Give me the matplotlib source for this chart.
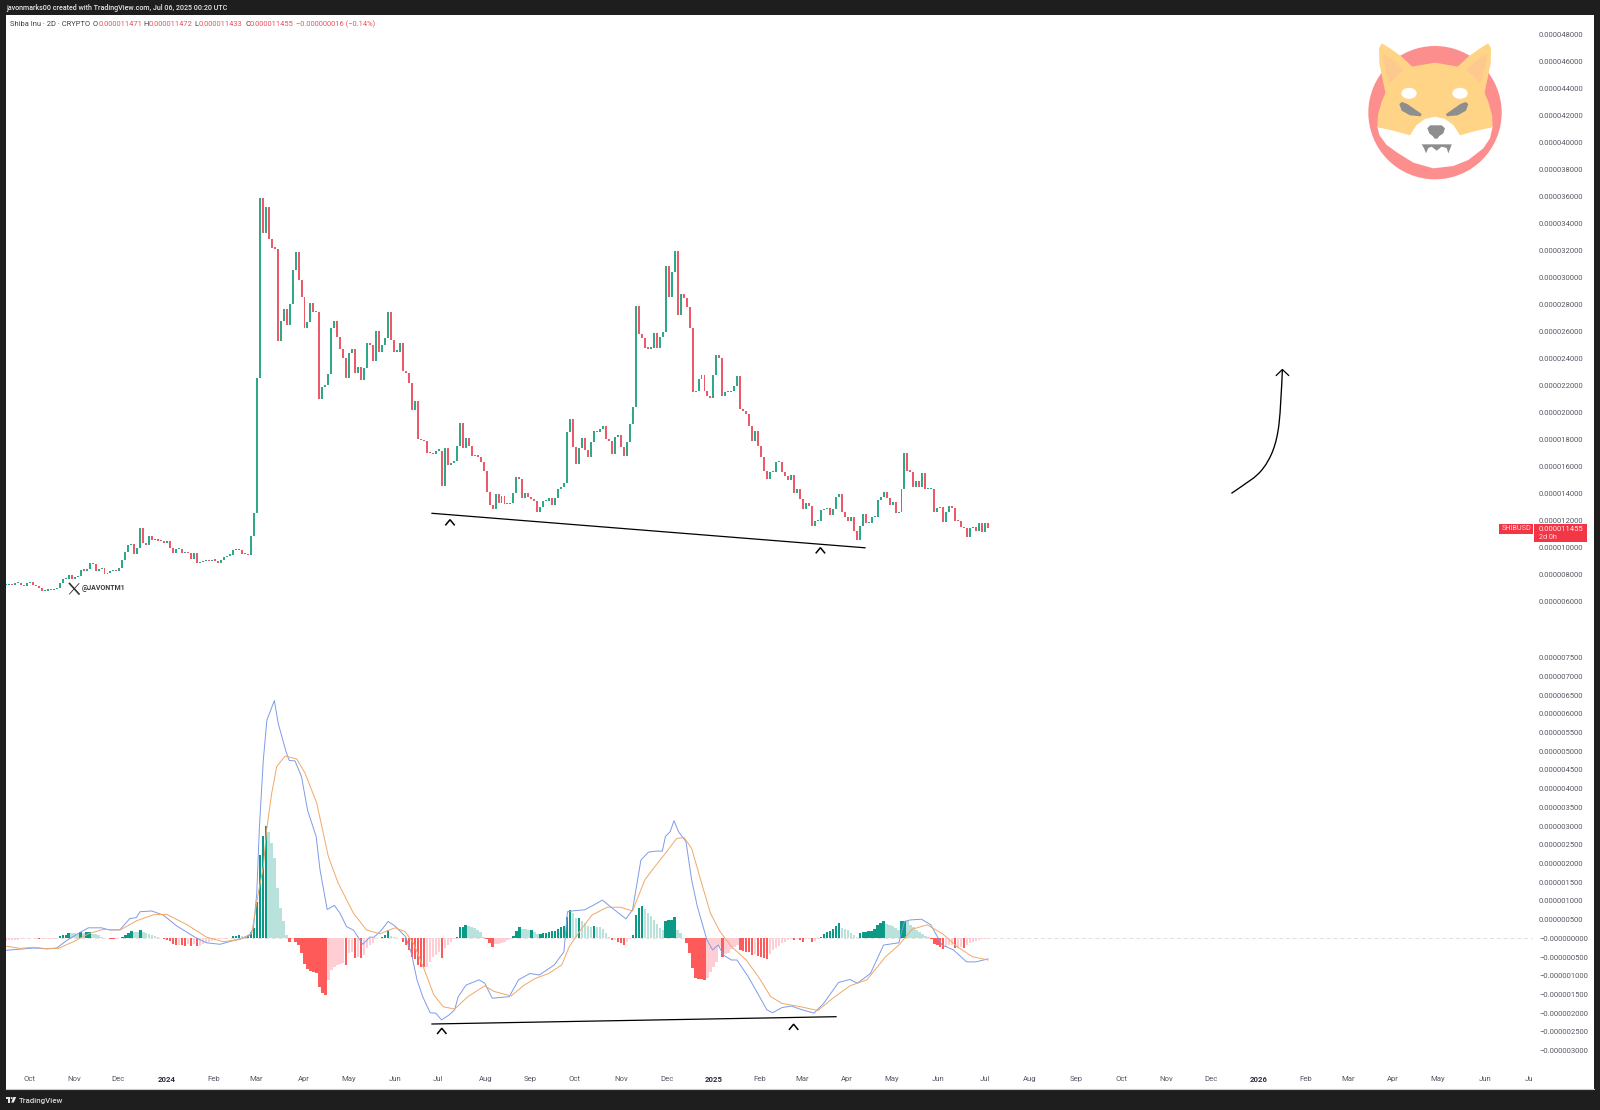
import numpy as np
import matplotlib
matplotlib.use("Agg")
import matplotlib.pyplot as plt
from matplotlib.patches import Polygon, Circle, Ellipse, Rectangle, PathPatch
from matplotlib.path import Path

# ---------- data (prices and MACD in units of 1e-6) ----------
open_first = 7.20
closes = [
 7.23,7.31,7.23,7.36,7.41,7.21,7.16,7.36,7.43,7.23,
 7.16,6.99,6.79,6.79,6.91,6.86,6.94,6.99,7.36,7.70,
 7.70,7.95,7.65,7.85,7.90,8.34,8.30,8.44,8.84,8.79,
 8.30,8.44,8.47,8.05,8.15,8.27,8.30,8.25,8.47,9.09,
 9.65,10.17,10.27,9.51,10.0,11.43,10.32,10.2,10.86,10.57,
 10.57,10.52,10.47,10.32,10.52,9.95,9.58,9.9,9.93,9.58,
 9.63,9.58,9.13,9.63,8.84,8.96,9.01,9.01,8.99,9.06,
 9.04,8.89,9.09,9.33,9.41,9.46,9.83,9.83,9.83,9.51,
 9.51,9.46,10.86,12.55,22.6,35.88,33.29,35.2,32.85,32.23,
 32.15,25.34,26.8,27.68,26.5,28.03,30.6,31.93,29.83,28.55,
 26.28,26.75,28.15,27.49,27.44,21.04,21.88,22.03,22.87,26.28,
 26.8,25.64,24.7,24.08,22.6,24.4,24.7,22.92,23.41,22.43,
 23.29,25.19,25.02,23.81,26.08,24.52,25.02,25.51,27.49,25.39,
 24.52,24.52,25.19,23.12,22.92,22.18,20.2,20.89,18.03,17.98,
 17.91,17.0,16.98,16.94,17.19,17.19,14.57,17.36,16.13,16.3,
 16.45,17.56,19.26,17.36,18.1,17.54,16.82,16.79,16.74,16.37,
 15.7,14.15,13.16,12.84,13.97,13.33,13.83,13.23,13.23,13.28,
 14.02,15.21,15.09,13.7,14.02,13.78,13.6,13.48,12.67,13.04,
 13.48,13.48,13.7,13.13,13.65,14.32,14.47,14.77,18.59,19.53,
 17.48,16.2,17.36,18.1,17.23,16.69,17.8,18.67,18.54,18.79,
 19.04,18.05,17.93,16.94,18.17,18.35,17.48,16.79,17.8,19.16,
 20.44,27.9,25.83,25.5,24.76,24.74,24.76,25.93,24.76,25.63,
 25.97,30.86,28.59,30.44,32.0,27.23,28.79,28.47,27.8,26.3,
 21.5,21.63,22.47,22.76,21.6,21.26,21.11,22.79,24.27,24.02,
 21.26,21.5,21.5,21.6,21.97,22.74,20.25,20.15,19.9,19.04,
 17.92,18.64,17.55,16.74,15.7,15.06,15.6,15.63,16.32,16.32,
 15.63,15.33,15.01,15.38,14.02,14.32,13.58,12.84,13.28,13.11,
 11.6,11.97,11.97,12.79,12.86,12.91,12.42,12.86,13.78,13.95,
 12.62,12.3,12.0,12.25,11.26,10.57,11.6,12.47,11.8,11.8,
 12.25,12.3,13.53,13.78,14.12,13.7,13.16,13.41,12.59,12.62,
 14.34,17.0,15.7,15.63,14.47,14.96,14.52,15.5,14.32,14.32,
 14.32,12.67,12.91,12.99,11.92,12.67,13.09,12.91,12.0,11.95,
 11.55,11.48,10.81,11.48,11.55,11.26,11.8,11.13,11.8,11.455,
]

hist = [
 -.06,-.05,-.05,-.04,-.04,-.03,-.02,.01,.01,.01,
 .01,-.03,-.03,-.01,-.01,-.01,-.01,.02,.05,.08,
 .09,.14,.135,.13,.125,.17,.14,.16,.17,.12,
 .11,.08,.04,.02,.01,-.01,-.02,-.02,0,.03,
 .08,.15,.19,.16,.155,.22,.16,.14,.12,.1,
 .07,.04,.01,-.02,-.04,-.08,-.15,-.18,-.18,-.19,
 -.195,-.15,-.2,-.16,-.2,-.2,-.16,-.13,-.1,-.07,
 -.04,-.02,-.01,-.01,-.01,.01,.05,.07,.08,.06,
 .05,.08,.16,.27,.98,2.23,2.72,3.0,2.83,2.54,
 2.15,1.34,.8,.45,.09,-.11,-.02,-.1,-.18,-.4,
 -.69,-.83,-.87,-.91,-.915,-1.29,-1.47,-1.51,-1.11,-.85,
 -.76,-.71,-.69,-.67,-.72,-.4,-.36,-.52,-.49,-.52,
 -.45,-.27,-.18,-.13,0,0,.04,.09,.22,.07,
 .03,.01,0,-.09,-.18,-.31,-.51,-.56,-.71,-.77,
 -.78,-.76,-.62,-.49,-.45,-.36,-.52,-.27,-.18,-.09,
 -.03,.04,.29,.29,.36,.33,.29,.27,.22,.18,
 .04,-.02,-.13,-.22,-.15,-.15,-.12,-.09,-.05,-.02,
 .06,.2,.29,.25,.24,.22,.22,.18,.12,.12,
 .15,.15,.18,.19,.2,.24,.29,.33,.58,.76,
 .67,.53,.53,.45,.4,.33,.29,.33,.31,.29,
 .26,.15,.04,-.04,-.04,-.09,-.12,-.18,-.09,-.03,
 .08,.62,.8,.85,.77,.67,.6,.49,.37,.27,
 .22,.47,.48,.49,.58,.22,.13,.02,-.12,-.4,
 -.8,-1.07,-1.09,-1.1,-1.11,-1.07,-.89,-.76,-.62,-.22,
 -.49,-.42,-.4,-.29,-.22,-.18,-.31,-.33,-.36,-.37,
 -.45,-.42,-.46,-.49,-.52,-.55,-.42,-.31,-.27,-.2,
 -.13,-.09,-.04,-.03,-.04,-.03,-.04,-.09,-.03,-.03,
 -.11,-.06,-.03,.03,.12,.17,.2,.25,.34,.4,
 .28,.24,.22,.15,.08,.03,.13,.17,.18,.19,
 .2,.24,.36,.42,.45,.38,.36,.33,.27,.22,
 .45,.47,.45,.36,.29,.22,.18,.12,.07,.03,
 -.01,-.15,-.18,-.22,-.29,-.24,-.18,-.18,-.25,-.25,
 -.24,-.27,-.18,-.13,-.09,-.06,-.04,-.03,-.02,-.01,
]

macd_bar = [0,4.7,9.2,13.6,17,20.3,24.2,27.6,32,34.8,38.2,41.5,43.6,44.9,48.8,52.7,57.2,63.9,67.2,71.7,76.2,
 81.2,82.9,84,84.9,86.2,87.4,89.9,91.2,93.8,94.9,96.8,99,101,103.9,105.2,107.6,110,111.9,114.1,116.4,119.5,
 121.9,123.3,125.8,128,130.3,133.9,135.8,137.7,139.6,142.1,144,145.9,148.4,150.3,151.5,154.1,158.5,160.4,162.9,
 168.6,171.7,175.5,178.7,183.7,186.9,188.1,190.6,193.8,196.9,199.8,203.2,207.7,209.9,212.7,215.2,217.8,219.9,
 220.9,222.5,223.8,225.3,227.8,229.7,231.6,234.8,236.7,238.6,240.4,243,244.9,248.6,251.8,254.9,256.8,260,263.1,
 266.3,270.7,273.9,278.9,282.7,285.2,289.6,294,299.1,301,302.9,306.7,309.8,313.6,317.4,321.8,324.9,329]
macd_val = [-.32,-.29,-.26,-.28,-.26,-.06,.13,.28,.28,.22,.23,.53,.55,.71,.73,.62,.33,0,-.12,-.16,-.06,
 .04,.27,1.2,2.98,4.76,5.83,6.35,5.74,4.99,4.75,4.74,4.32,3.43,2.72,1.83,.77,.88,.67,.31,.22,-.16,
 .03,.03,.22,.45,.33,.04,-.4,-1.11,-1.56,-1.99,-2.0,-2.18,-2.05,-1.91,-1.56,-1.25,-1.11,-1.2,-1.6,
 -1.56,-1.11,-.94,-.98,-.71,-.36,.71,.74,.76,.89,1.02,.8,.52,.76,2.09,2.3,2.33,2.33,
 2.72,2.85,3.14,2.85,2.58,1.56,.85,-.04,-.31,-.18,-.45,-.58,-.58,-1.02,-1.47,-1.91,-1.99,-1.85,-1.81,
 -1.9,-2.0,-1.74,-1.18,-1.1,-1.2,-.94,-.18,-.12,.45,.49,.51,.36,-.18,-.31,-.63,-.63,-.55]

signal_bar = [0,4.7,9.2,13.6,17.5,22.6,27.6,32.6,38.2,43.8,49.4,53.8,60.5,67.2,72.8,78.4,82.3,84.5,86.2,87.3,89,90.7,
 93.5,97.4,100.2,104.1,108,111.3,116.4,120.8,125.3,130.3,133.7,136.5,140.2,143.3,146.5,150.3,154.7,160.4,163.5,
 169.2,173.6,177.4,181.8,186.2,188.7,192.5,196.3,201.4,205.8,209.9,214,217.8,220.9,224.7,227.2,229.7,232.9,236,
 239.2,243,248,252.4,256.2,260,266.3,272,277,282.7,288.4,294.7,299.1,303.5,308.6,313.6,318.6,323.7,329]
signal_val = [-.21,-.27,-.24,-.28,-.27,-.09,.12,.24,.22,.47,.63,.64,.37,.03,-.09,-.03,.13,1.2,1.91,2.89,3.87,4.59,
 4.87,4.79,4.41,3.61,2.18,1.47,.67,.22,.12,.28,.18,-.13,-.85,-1.51,-1.83,-1.89,-1.56,-1.27,-1.42,
 -1.54,-1.25,-1.07,-.94,-.71,-.22,.22,.62,.83,.83,.73,1.56,1.96,2.27,2.67,2.69,2.4,1.51,.67,
 .18,-.22,-.58,-1.07,-1.56,-1.74,-1.83,-1.93,-1.6,-1.27,-1.11,-.49,-.18,.24,.36,.13,-.22,-.49,-.58]

price_ticks = [48,46,44,42,40,38,36,34,32,30,28,26,24,22,20,18,16,14,12,10,8,6]
macd_ticks = [7.5,7,6.5,6,5.5,5,4.5,4,3.5,3,2.5,2,1.5,1,.5,0,-.5,-1,-1.5,-2,-2.5,-3]
month_labels = ["Oct","Nov","Dec","2024","Feb","Mar","Apr","May","Jun","Jul","Aug","Sep","Oct","Nov","Dec","2025",
                "Feb","Mar","Apr","May","Jun","Jul","Aug","Sep","Oct","Nov","Dec","2026","Feb","Mar","Apr","May","Jun","Ju"]
month_bars = [8.0,22.8,37.7,53.8,69.5,83.8,99.8,114.9,130.3,144.7,160.7,175.7,190.6,206.1,221.4,237.2,
              252.6,266.7,281.8,296.8,312.2,327.8,342.8,358.5,373.7,388.6,403.6,419.5,435.5,449.6,464.7,479.6,495.5,510.2]
bold_months = {"2024","2025","2026"}

# ---------- layout helpers ----------
W, H = 1600, 1110
STEP = 2.985        # px per bar
L, R, T, B, MID = 6, 1594, 15, 1089, 620
GREEN, RED = "#2fa888", "#ec5a6a"
TICK = "#565964"
FONT = "Roboto"
plt.rcParams["font.family"] = [FONT, "DejaVu Sans"]

fig = plt.figure(figsize=(W/100, H/100), dpi=100, facecolor="#1e1e1e")

def add_axes(top, bottom):
    return fig.add_axes([L/W, 1-bottom/H, (R-L)/W, (bottom-top)/H], facecolor="white")

ax1 = add_axes(T, MID)
ax2 = add_axes(MID, B)
xlim = (0, (R-L)/STEP)

# px -> value scales
ax1.set_xlim(*xlim)
ax1.set_ylim(48-(MID-34.7)/13.5, 48-(T-34.7)/13.5)
ax2.set_xlim(*xlim)
ax2.set_ylim((938.3-B)/37.43, (938.3-MID)/37.43)

# candles
c = np.array(closes)
o = np.r_[open_first, c[:-1]]
idx = np.arange(len(c))
cols = [GREEN if a >= b else RED for a, b in zip(c, o)]
ax1.bar(idx, np.maximum(np.abs(c-o), 0.09), bottom=np.minimum(c, o), width=0.66, color=cols, linewidth=0)

# MACD
h = np.array(hist)
prev = np.r_[h[0], h[:-1]]
hcols = []
for v, p in zip(h, prev):
    if v >= 0:
        hcols.append("#0a9a85" if v >= p else "#b9e2dd")
    else:
        hcols.append("#ff5a5a" if v < p else "#ffcdd4")
ax2.bar(np.arange(len(h)), h, width=0.8, color=hcols, linewidth=0)
ax2.hlines(0, 0, (1532-L)/STEP, colors="#e3dede", linestyles=(0, (4, 3)), linewidth=0.7, zorder=0.5)
ax2.plot(macd_bar, macd_val, color="#7f9be8", linewidth=0.7)
ax2.plot(signal_bar, signal_val, color="#f0a868", linewidth=0.7)

# axes dressing
pad_y = -(R-1539)*0.72
for ax, ticks in ((ax1, price_ticks), (ax2, macd_ticks)):
    for s in ax.spines.values():
        s.set_visible(False)
    ax.yaxis.tick_right()
    ax.set_yticks(ticks)
    ax.tick_params(axis="y", length=0, pad=pad_y, labelsize=5.5, labelcolor=TICK)
ax1.set_yticklabels([f"0.{int(round(t*1000)):09d}" for t in price_ticks])
ax2.set_yticklabels([("\u2212" if t <= 0 else "") + f"0.{int(round(abs(t)*1000)):09d}" for t in macd_ticks])
ax1.set_xticks([])
ax2.set_xticks(month_bars)
ax2.set_xticklabels(month_labels)
ax2.tick_params(axis="x", length=0, pad=-9.2, labelsize=5.6, labelcolor=TICK)
for lab, name in zip(ax2.get_xticklabels(), month_labels):
    if name in bold_months:
        lab.set_fontweight("bold")
        lab.set_color("#2a2e39")
ax2.spines["bottom"].set_visible(True)
ax2.spines["bottom"].set_color("#c8c8c8")
ax2.spines["bottom"].set_linewidth(0.8)

# overlay in pixel coordinates for drawings and chrome
ov = fig.add_axes([0, 0, 1, 1], facecolor="none", zorder=5)
ov.set_xlim(0, W); ov.set_ylim(H, 0); ov.axis("off")

# header, legend, footer
ov.text(6, 7.8, "javonmarks00 created with TradingView.com, Jul 06, 2025 00:20 UTC", color="#e6e6e6",
        fontsize=5.18, fontweight="medium", va="center")
LEG_Y = 24.5
ov.text(10.5, LEG_Y, "Shiba Inu \u00b7 2D \u00b7 CRYPTO", color="#3a3e4a", fontsize=5.4, va="center")
for lx, lt, vx, vt in [(93, "O", 98.3, "0.000011471"), (143.3, "H", 149, "0.000011472"),
                       (194.3, "L", 199, "0.000011433"), (245, "C", 250, "0.000011455")]:
    ov.text(lx, LEG_Y, lt, color="#3a3e4a", fontsize=5.4, va="center")
    ov.text(vx, LEG_Y, vt, color="#e8505f", fontsize=5.4, va="center")
ov.text(296.5, LEG_Y, "\u22120.000000016 (\u22120.14%)", color="#e8505f", fontsize=5.4, va="center")

# TradingView footer mark
ov.add_patch(Rectangle((5.5, 1097), 4.2, 1.9, color="#e8e8e8", lw=0))
ov.add_patch(Rectangle((7.6, 1097), 2.1, 5.6, color="#e8e8e8", lw=0))
ov.add_patch(Circle((11.6, 1098), 1.0, color="#e8e8e8", lw=0))
ov.add_patch(Polygon([(13.2, 1097), (16.2, 1097), (13.8, 1102.6), (11.2, 1102.6)], color="#e8e8e8", lw=0))
ov.text(19, 1100.5, "TradingView", color="#d8d8d8", fontsize=5.7, va="center", fontweight="medium")

# trend lines and carets
ov.plot([432, 865], [513.3, 547.8], color="black", lw=0.9)
ov.plot([432, 836], [1024, 1016.7], color="black", lw=0.9)
for cx, cy in [(450, 522), (820.4, 550), (441.8, 1030.6), (793.6, 1026.5)]:
    ov.plot([cx-4.2, cx, cx+4.2], [cy+2.8, cy-2.3, cy+2.8], color="black", lw=1.1, solid_joinstyle="miter")

# watermark
ov.plot([69.5, 79], [583.5, 594], color="#333", lw=1.2)
ov.plot([79, 69.5], [583.5, 594], color="#333", lw=0.6)
ov.text(82, 588.5, "@JAVONTM1", color="#3a3a3a", fontsize=5.0, fontweight="bold", va="center")

# curved arrow
verts = [(1231.4, 493.4), (1246, 483), (1256, 478), (1263, 468.5), (1271, 458), (1276.5, 445), (1279, 424),
         (1280.5, 410), (1281.5, 390), (1282.4, 369.5)]
codes = [Path.MOVETO] + [Path.CURVE4]*9
ov.add_patch(PathPatch(Path(verts, codes), fill=False, ec="black", lw=0.95))
ov.plot([1276.3, 1282.4, 1288.6], [375.4, 369.5, 375.4], color="black", lw=0.9)

# price tag
ov.add_patch(Rectangle((1499, 524.3), 34.4, 9.2, color="#f23645", lw=0))
ov.add_patch(Rectangle((1534, 524.3), 52.7, 17.6, color="#f23645", lw=0))
ov.text(1516.2, 529, "SHIBUSD", color="#ffd8dc", fontsize=5.2, ha="center", va="center")
ov.text(1539, 529, "0.000011455", color="#ffe9eb", fontsize=5.5, va="center")
ov.text(1539, 537.3, "2d 0h", color="#ffd8dc", fontsize=5.2, va="center")

# Shiba logo (coordinates from the crop, mapped to pixels)
def P(pts):
    return [(1320+x/3, 20+y/3) for x, y in pts]
def mirror(pts):
    return [(690-x, y) for x, y in pts]
YEL, EAR, GRAY = "#ffd487", "#fdc98e", "#8e8e8e"
ov.add_patch(Circle((1320+345/3, 20+278/3), 200/3, color="#fd8e8e", lw=0))
muzzle = [(172, 320), (178, 345), (200, 375), (232, 398), (280, 428), (340, 445), (400, 438), (445, 420), (490, 385),
          (510, 355), (518, 320), (470, 300), (345, 270), (220, 300)]
ov.add_patch(Polygon(P(muzzle), color="white", lw=0))
ear = [(197, 222), (178, 130), (177, 85), (185, 70), (210, 85), (245, 110), (277, 140)]
ear_in = [(207, 190), (190, 120), (190, 100), (225, 125), (250, 150)]
for e, e2 in ((ear, ear_in), (mirror(ear), mirror(ear_in))):
    ov.add_patch(Polygon(P(e), color=YEL, lw=0))
    ov.add_patch(Polygon(P(e2), color=EAR, lw=0))
head = [(172, 322), (174, 285), (185, 245), (200, 210), (228, 170), (275, 140), (345, 128), (415, 140), (462, 170),
        (490, 210), (505, 245), (516, 285), (518, 322), (470, 332), (420, 346), (400, 315), (375, 297), (345, 290),
        (315, 297), (290, 315), (270, 346), (220, 332)]
ov.add_patch(Polygon(P(head), color=YEL, lw=0))
ov.add_patch(Ellipse((1320+267/3, 20+220/3), 46/3, 33/3, color="white", lw=0))
ov.add_patch(Ellipse((1320+420/3, 20+220/3), 46/3, 33/3, color="white", lw=0))
eye = [(238, 252), (246, 246), (262, 252), (305, 282), (302, 289), (270, 286), (245, 272)]
ov.add_patch(Polygon(P(eye), color=GRAY, lw=0))
ov.add_patch(Polygon(P([(690-7-x, y) for x, y in eye]), color=GRAY, lw=0))
nose = [(322, 325), (330, 316), (365, 316), (375, 325), (370, 340), (358, 348), (352, 356), (344, 356), (338, 348), (328, 340)]
ov.add_patch(Polygon(P(nose), color=GRAY, lw=0))
mouth = [(305, 373), (395, 373), (392, 382), (385, 400), (380, 384), (365, 380), (350, 392), (335, 380), (325, 384),
         (318, 400), (312, 385)]
ov.add_patch(Polygon(P(mouth), color=GRAY, lw=0))

fig.savefig("out.png", dpi=100, facecolor=fig.get_facecolor())
